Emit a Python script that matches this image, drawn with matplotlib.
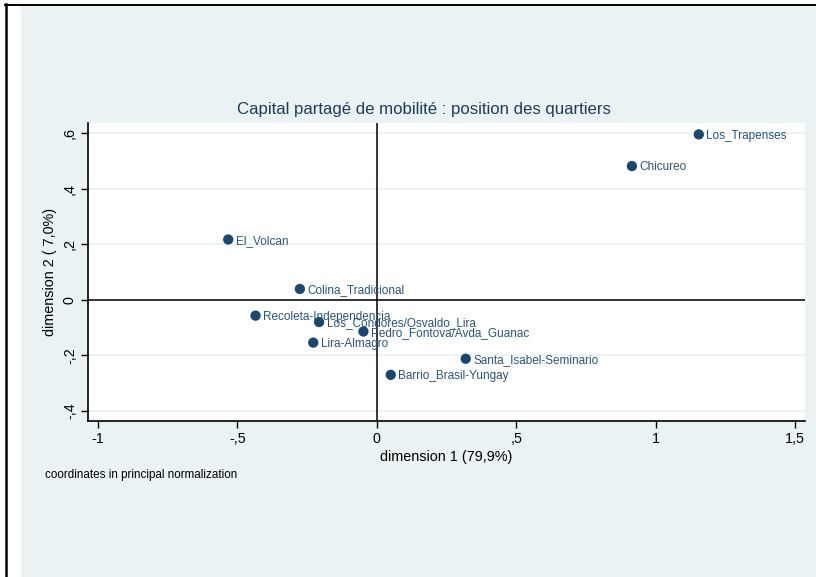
import matplotlib.pyplot as plt
from matplotlib.patches import Rectangle
from matplotlib.lines import Line2D

plt.rcParams['font.family'] = ['Liberation Sans', 'DejaVu Sans']

quartiers = ['Los_Trapenses', 'Chicureo', 'El_Volcan', 'Colina_Tradicional',
             'Recoleta-Independencia', 'Los_Condores/Osvaldo_Lira',
             'Pedro_Fontova/Avda_Guanac', 'Lira-Almagro',
             'Santa_Isabel-Seminario', 'Barrio_Brasil-Yungay']
dim1 = [1.155, 0.915, -0.533, -0.276, -0.435, -0.207, -0.048, -0.228, 0.319, 0.050]
dim2 = [0.595, 0.481, 0.217, 0.039, -0.057, -0.080, -0.114, -0.154, -0.212, -0.270]

xticks = [-1, -0.5, 0, 0.5, 1, 1.5]
xlabels = ['-1', '-,5', '0', ',5', '1', '1,5']
yticks = [-0.4, -0.2, 0, 0.2, 0.4, 0.6]
ylabels = ['-,4', '-,2', '0', ',2', ',4', ',6']

W, H = 816, 577
fig = plt.figure(figsize=(W / 100, H / 100), dpi=100)
fig.patch.set_facecolor('white')

# light graph region + black frame lines
fig.add_artist(Rectangle((21 / W, 0), 1 - 21 / W, 1 - 5 / H, transform=fig.transFigure,
                         facecolor='#eaf2f3', edgecolor='none', zorder=0))
fig.add_artist(Line2D([6 / W, 6 / W], [0, 1 - 4 / H], transform=fig.transFigure,
                      color='black', lw=1.8))
fig.add_artist(Line2D([5 / W, 1], [1 - 4.5 / H, 1 - 4.5 / H], transform=fig.transFigure,
                      color='black', lw=1.4))

ax = fig.add_axes([88 / W, 1 - 421 / H, (805 - 88) / W, (421 - 123) / H])
ax.set_facecolor('white')
ax.set_xlim(-1.036, 1.536)
ax.set_ylim(-0.436, 0.636)

for s in ['top', 'right']:
    ax.spines[s].set_visible(False)
for s in ['left', 'bottom']:
    ax.spines[s].set_linewidth(1.2)

ax.set_yticks(yticks)
ax.set_yticklabels(ylabels, rotation=90, va='center')
ax.set_xticks(xticks)
ax.set_xticklabels(xlabels)
ax.tick_params(length=5, width=1, labelsize=10.3, pad=3)
ax.grid(axis='y', color='#eaf2f3', lw=1.2)
ax.set_axisbelow(True)

ax.axhline(0, color='black', lw=1.1)
ax.axvline(0, color='black', lw=1.1)

ax.scatter(dim1, dim2, s=55, color='#1a476f', zorder=3, edgecolors='none')
for name, x, y in zip(quartiers, dim1, dim2):
    ax.annotate(name, (x, y), xytext=(5.5, -1), textcoords='offset points',
                va='center', ha='left', fontsize=8.5, color='#2a5478', zorder=4)

ax.set_xlabel('dimension 1 (79,9%)', fontsize=10.4, labelpad=3)
ax.set_ylabel('dimension 2 ( 7,0%)', fontsize=10.4, labelpad=4)

fig.text(424 / W, 1 - 110 / H, 'Capital partagé de mobilité : position des quartiers',
         ha='center', va='center', fontsize=12.1, color='#1e3c5a')
fig.text(45 / W, 1 - 475 / H, 'coordinates in principal normalization',
         ha='left', va='center', fontsize=8.4, color='black')

fig.savefig('out.png', dpi=100)
